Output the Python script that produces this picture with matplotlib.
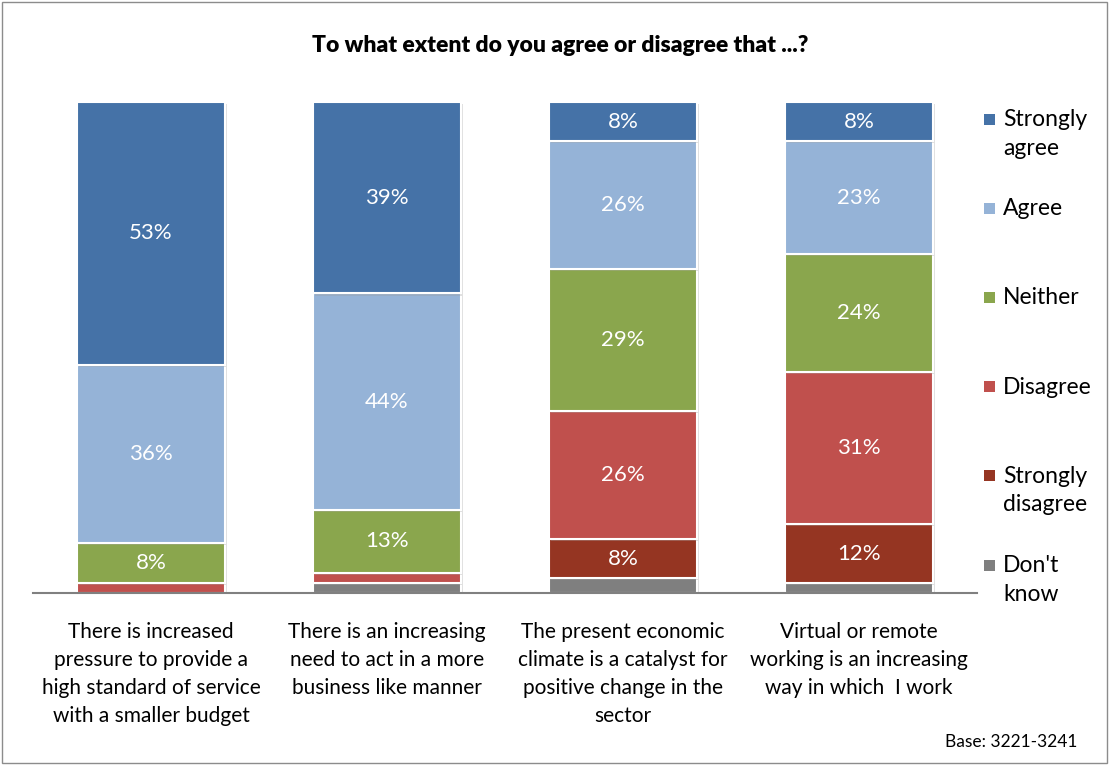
import numpy as np
import matplotlib
matplotlib.use('Agg')
import matplotlib.pyplot as plt
import matplotlib.patheffects as pe
from matplotlib.patches import Rectangle

plt.rcParams['font.family'] = ['Lato', 'DejaVu Sans']

# survey statements and answer shares (%)
statements = ['There is increased\npressure to provide a\nhigh standard of service\nwith a smaller budget',
              'There is an increasing\nneed to act in a more\nbusiness like manner',
              'The present economic\nclimate is a catalyst for\npositive change in the\nsector',
              'Virtual or remote\nworking is an increasing\nway in which  I work']
answers = ["Don't know", 'Strongly disagree', 'Disagree', 'Neither', 'Agree', 'Strongly agree']
legend_names = ["Don't\nknow", 'Strongly\ndisagree', 'Disagree', 'Neither', 'Agree', 'Strongly\nagree']

dont_know = [0, 2, 3, 2]
strongly_disagree = [0, 0, 8, 12]
disagree = [2, 2, 26, 31]
neither = [8, 13, 29, 24]
agree = [36, 44, 26, 23]
strongly_agree = [53, 39, 8, 8]

colors = ['#7f7f7f', '#953522', '#c0504d', '#8aa64d', '#95b3d7', '#4572a7']

series = [dont_know, strongly_disagree, disagree, neither, agree, strongly_agree]

# 100% stacked: each column scaled to its own total
totals = np.sum(np.array(series, dtype=float), axis=0)

W, H = 1109, 765
fig = plt.figure(figsize=(W / 100, H / 100), dpi=100)
ax = fig.add_axes([33 / W, (H - 593) / H, (977 - 33) / W, (593 - 102) / H])

x = np.arange(len(statements))
bottom = np.zeros(len(statements))
shadow = [pe.SimplePatchShadow(offset=(1.5, -1.5), shadow_rgbFace='#999999', alpha=0.3), pe.Normal()]
for vals, col, name in zip(series, colors, answers):
    vals = np.array(vals, dtype=float)
    share = vals / totals * 100
    bars = ax.bar(x, share, 0.63, bottom=bottom, color=col, edgecolor='white',
                  linewidth=1.5, label=name, path_effects=shadow)
    for b, v, s, b0 in zip(bars, vals, share, bottom):
        if v >= 5:
            ax.text(b.get_x() + b.get_width() / 2, b0 + s / 2, '%d%%' % v,
                    ha='center', va='center', color='white', fontsize=16)
    bottom += share

ax.set_xlim(-0.5, len(statements) - 0.5)
ax.set_ylim(0, 100)
ax.set_yticks([])
ax.set_xticks([])
for s in ['top', 'right', 'left']:
    ax.spines[s].set_visible(False)
ax.spines['bottom'].set_color('#808080')
ax.spines['bottom'].set_linewidth(1.5)

for i, lab in enumerate(statements):
    ax.text(i, -5.9, lab, ha='center', va='top', fontsize=15, linespacing=1.5)

# legend, one evenly spaced slot per answer, top to bottom
for k, (name, col) in enumerate(zip(legend_names[::-1], colors[::-1])):
    yc = 119 + k * 89.2
    fig.patches.append(Rectangle((984 / W, 1 - (yc + 5.5) / H), 11 / W, 11 / H,
                                 transform=fig.transFigure, facecolor=col, edgecolor='none'))
    fig.text(1003 / W, 1 - (yc - 10) / H, name, ha='left', va='top',
             fontsize=16.5, linespacing=1.45)

fig.text(560 / W, 1 - 45 / H, 'To what extent do you agree or disagree that ...?',
         ha='center', va='center', fontsize=16.5, fontweight='heavy')
fig.text(1077 / W, 1 - 742 / H, 'Base: 3221-3241', ha='right', va='center', fontsize=12.5)

fig.patches.append(Rectangle((2 / W, 2 / H), 1 - 4 / W, 1 - 4 / H,
                             transform=fig.transFigure, fill=False,
                             edgecolor='#8c8c8c', linewidth=1))

fig.savefig('out.png', dpi=100)
